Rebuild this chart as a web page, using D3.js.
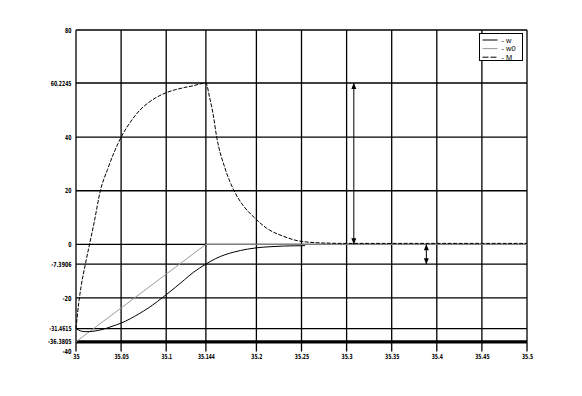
<!DOCTYPE html>
<html>
<head>
<meta charset="utf-8">
<script src="https://cdn.jsdelivr.net/npm/d3@7"></script>
<style>
  html, body { margin: 0; padding: 0; background: #fff; }
  svg { display: block; }
</style>
</head>
<body>
<svg id="chart" width="582" height="396"></svg>
<script>
// ---- data ----
const xTicks = [35, 35.05, 35.1, 35.144, 35.2, 35.25, 35.3, 35.35, 35.4, 35.45, 35.5];
const xTickLabels = ["35", "35.05", "35.1", "35.144", "35.2", "35.25", "35.3", "35.35", "35.4", "35.45", "35.5"];
const yTicks = [80, 60.2245, 40, 20, 0, -7.3906, -20, -31.4615, -36.3805, -40];
const yTickLabels = ["80", "60.2245", "40", "20", "0", "-7.3906", "-20", "-31.4615", "-36.3805", "-40"];
const thickLineValue = -36.3805;

// series "w" (solid black)
const wX = [35.000, 35.005, 35.010, 35.020, 35.030, 35.040, 35.050, 35.060, 35.070, 35.080, 35.090, 35.100, 35.110, 35.120, 35.130, 35.144, 35.155, 35.165, 35.175, 35.190, 35.200, 35.215, 35.230, 35.254];
const wY = [-31.4615, -32.3, -32.6, -32.4, -31.7, -30.6, -29.4, -27.8, -25.9, -23.8, -21.4, -18.8, -16.1, -13.3, -10.5, -7.3906, -5.3, -3.9, -2.9, -1.8, -1.3, -0.9, -0.65, -0.5];

// series "w0" (gray)
const w0X = [35.000, 35.144, 35.500];
const w0Y = [-36.3805, 0, 0];

// series "M" (dashed black)
const mX = [35.000, 35.003, 35.006, 35.010, 35.015, 35.020, 35.027, 35.035, 35.050, 35.060, 35.070, 35.080, 35.090, 35.100, 35.110, 35.120, 35.130, 35.144, 35.148, 35.152, 35.156, 35.165, 35.176, 35.186, 35.198, 35.211, 35.230, 35.248, 35.274, 35.300, 35.500];
const mY = [-31.4615, -22, -15, -8, 0, 8, 20, 28, 40, 45.5, 49.8, 52.8, 55.0, 56.6, 57.7, 58.5, 59.2, 60.2245, 55, 48.6, 40, 28.6, 19.5, 14.2, 9.9, 6.1, 3.0, 1.2, 0.5, 0.35, 0.35];

// double arrows: x position, from value, to value
const arrowX = [35.308, 35.3884];
const arrowFrom = [60.2245, 0];
const arrowTo = [0, -7.3906];

const legendNames = ["- w", "- w0", "- M"];

// ---- drawing ----
const svg = d3.select("#chart");
const x = d3.scaleLinear().domain([35, 35.5]).range([76, 527]);
const y = d3.scaleLinear().domain([-40, 80]).range([351.5, 30]);

const labelWidth = s => {
  let w = 0;
  for (const c of s) w += (c === ".") ? 1.6 : (c === "-") ? 2.6 : (c === "1") ? 2.6 : 3.2;
  return w;
};

// grid lines
const grid = svg.append("g");
grid.selectAll("line.v").data(xTicks).join("line")
  .attr("x1", d => x(d)).attr("x2", d => x(d))
  .attr("y1", y(80)).attr("y2", y(-40))
  .attr("stroke", "#000").attr("stroke-width", 1.3);
grid.selectAll("line.h").data(yTicks.filter(v => v !== -40 && v !== thickLineValue)).join("line")
  .attr("x1", x(35)).attr("x2", x(35.5))
  .attr("y1", d => y(d)).attr("y2", d => y(d))
  .attr("stroke", "#000").attr("stroke-width", 1.3);
grid.append("line")
  .attr("x1", x(35)).attr("x2", x(35.5))
  .attr("y1", y(thickLineValue)).attr("y2", y(thickLineValue))
  .attr("stroke", "#000").attr("stroke-width", 3.2);

// axes labels
const fontStyle = sel => sel.attr("font-family", "DejaVu Sans, sans-serif")
  .attr("font-size", 7).attr("font-weight", "bold").attr("fill", "#000");

const xAxis = d3.axisBottom(x).tickValues(xTicks).tickFormat((d, i) => xTickLabels[i]).tickSize(0).tickPadding(0);
const gx = svg.append("g").attr("transform", `translate(0,${y(-40)})`).call(xAxis);
gx.select(".domain").remove();
gx.selectAll("text").attr("dy", 0).attr("y", 7.5)
  .call(fontStyle)
  .attr("textLength", function() { return labelWidth(this.textContent); })
  .attr("lengthAdjust", "spacingAndGlyphs");

const yAxis = d3.axisLeft(y).tickValues(yTicks).tickFormat((d, i) => yTickLabels[i]).tickSize(0).tickPadding(0);
const gy = svg.append("g").attr("transform", `translate(${x(35) - 4.5},0)`).call(yAxis);
gy.select(".domain").remove();
gy.selectAll("text").attr("x", 0).attr("dy", "0.3em")
  .call(fontStyle)
  .attr("textLength", function() { return labelWidth(this.textContent); })
  .attr("lengthAdjust", "spacingAndGlyphs");

const line = d3.line().x(d => x(d[0])).y(d => y(d[1]));

// w0
svg.append("path").datum(w0X.map((v, i) => [v, w0Y[i]]))
  .attr("d", line).attr("fill", "none").attr("stroke", "#999").attr("stroke-width", 1);
// w
svg.append("path").datum(wX.map((v, i) => [v, wY[i]]))
  .attr("d", d3.line().x(d => x(d[0])).y(d => y(d[1])).curve(d3.curveMonotoneX))
  .attr("fill", "none").attr("stroke", "#000").attr("stroke-width", 1);
// M
svg.append("path").datum(mX.map((v, i) => [v, mY[i]]))
  .attr("d", d3.line().x(d => x(d[0])).y(d => y(d[1])).curve(d3.curveMonotoneX))
  .attr("fill", "none").attr("stroke", "#000").attr("stroke-width", 1).attr("stroke-dasharray", "4,1.5");

// arrows
const arrows = svg.append("g");
arrowX.forEach((ax, i) => {
  const px = x(ax), y1 = y(arrowFrom[i]), y2 = y(arrowTo[i]);
  arrows.append("line").attr("x1", px).attr("x2", px).attr("y1", y1).attr("y2", y2)
    .attr("stroke", "#000").attr("stroke-width", 1);
  const dir = y2 > y1 ? 1 : -1;
  arrows.append("path").attr("d", `M${px},${y1} L${px - 2.5},${y1 + dir * 6} L${px + 2.5},${y1 + dir * 6} Z`).attr("fill", "#000");
  arrows.append("path").attr("d", `M${px},${y2} L${px - 2.5},${y2 - dir * 6} L${px + 2.5},${y2 - dir * 6} Z`).attr("fill", "#000");
});

// legend
const lg = svg.append("g");
lg.append("rect").attr("x", 479.5).attr("y", 33.5).attr("width", 43).attr("height", 27)
  .attr("fill", "#fff").attr("stroke", "#000").attr("stroke-width", 1);
const legendStyles = [
  { stroke: "#000", dash: null },
  { stroke: "#999", dash: null },
  { stroke: "#000", dash: "6,2" }
];
legendNames.forEach((name, i) => {
  const ly = 40 + i * 8.6;
  lg.append("line").attr("x1", 482.5).attr("x2", 497.5).attr("y1", ly).attr("y2", ly)
    .attr("stroke", legendStyles[i].stroke).attr("stroke-width", 1)
    .attr("stroke-dasharray", legendStyles[i].dash);
  lg.append("text").attr("x", 501.5).attr("y", ly).attr("dy", "0.35em")
    .attr("font-family", "Liberation Sans, Arial, sans-serif").attr("font-size", 7.5)
    .attr("fill", "#000").text(name);
});
</script>
</body>
</html>
